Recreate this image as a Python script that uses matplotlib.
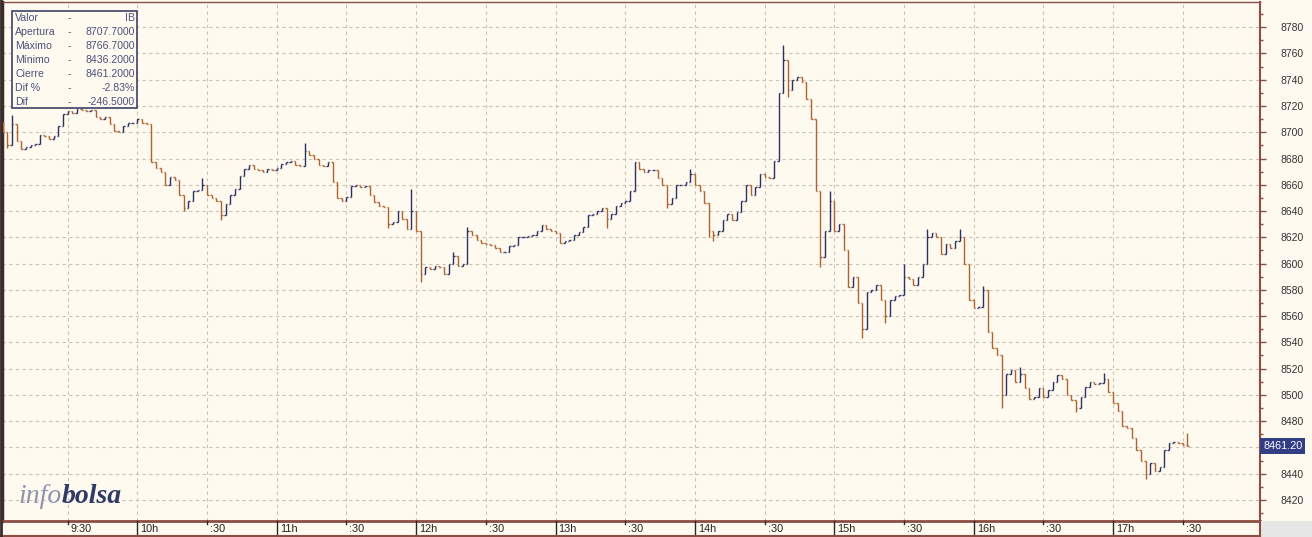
import numpy as np
import matplotlib
matplotlib.use("Agg")
import matplotlib.pyplot as plt
from matplotlib.collections import LineCollection
from matplotlib.patches import Rectangle
import matplotlib.transforms as mtransforms

# ---------------- data ----------------
open_price = 8707.7
bar_step_min = 2                      # 2-minute bars, minutes after 9:00
closes = [
    8700, 8690, 8706, 8693, 8687, 8689, 8690, 8691, 8698, 8697,
    8695, 8697, 8705, 8714, 8716, 8715, 8718, 8717, 8716, 8717,
    8712, 8710, 8712, 8706, 8701, 8700, 8705, 8707, 8707, 8710,
    8707, 8706, 8677, 8673, 8670, 8660, 8666, 8664, 8652, 8642,
    8648, 8655, 8656, 8660, 8652, 8650, 8648, 8637, 8645, 8652,
    8657, 8667, 8672, 8675, 8672, 8671, 8670, 8672, 8671, 8673,
    8676, 8677, 8678, 8675, 8674, 8686, 8683, 8680, 8675, 8674,
    8677, 8662, 8650, 8648, 8651, 8659, 8660, 8658, 8659, 8652,
    8647, 8644, 8643, 8630, 8632, 8640, 8634, 8626, 8640, 8625,
    8592, 8597, 8596, 8598, 8597, 8592, 8600, 8606, 8598, 8600,
    8625, 8622, 8618, 8616, 8615, 8614, 8612, 8609, 8609, 8613,
    8614, 8620, 8620, 8621, 8622, 8625, 8629, 8626, 8625, 8623,
    8616, 8617, 8618, 8622, 8624, 8628, 8637, 8638, 8640, 8642,
    8634, 8638, 8644, 8646, 8648, 8655, 8677, 8672, 8670, 8671,
    8671, 8665, 8660, 8645, 8650, 8660, 8660, 8662, 8668, 8660,
    8655, 8646, 8625, 8622, 8625, 8633, 8638, 8633, 8639, 8648,
    8660, 8652, 8658, 8668, 8666, 8665, 8678, 8730, 8755, 8732,
    8740, 8742, 8738, 8725, 8710, 8655, 8605, 8625, 8648, 8625,
    8630, 8610, 8582, 8590, 8570, 8550, 8578, 8580, 8584, 8572,
    8560, 8572, 8575, 8576, 8590, 8588, 8584, 8590, 8600, 8620,
    8623, 8620, 8607, 8615, 8612, 8617, 8620, 8600, 8572, 8566,
    8567, 8580, 8548, 8536, 8530, 8500, 8516, 8519, 8510, 8516,
    8505, 8497, 8498, 8505, 8498, 8504, 8510, 8515, 8512, 8500,
    8496, 8490, 8498, 8506, 8510, 8508, 8509, 8512, 8502, 8494,
    8488, 8476, 8475, 8467, 8458, 8450, 8440, 8448, 8442, 8445,
    8458, 8463, 8464, 8463, 8462, 8461.2,
]
# intrabar extremes beyond open/close (bar time -> price)
spike_highs = {"9:06": 8713, "10:28": 8665, "11:12": 8692, "11:58": 8657,
               "12:16": 8609, "12:22": 8628, "13:58": 8672, "14:38": 8766.7,
               "14:58": 8655, "15:30": 8600, "15:40": 8626, "15:54": 8626,
               "16:04": 8583, "16:20": 8521, "16:56": 8517, "17:32": 8471}
spike_lows = {"9:04": 8688, "10:20": 8640, "10:36": 8633, "11:48": 8627,
              "12:02": 8586, "13:22": 8627, "13:48": 8642, "14:06": 8620,
              "14:08": 8617, "14:40": 8727, "14:54": 8597, "15:12": 8543,
              "15:22": 8555, "16:12": 8490, "16:44": 8487, "17:14": 8436.2}

time_labels = ["9:30", "10h", ":30", "11h", ":30", "12h", ":30", "13h", ":30",
               "14h", ":30", "15h", ":30", "16h", ":30", "17h", ":30"]
y_ticks = list(range(8420, 8781, 20))
info_rows = [("Valor", "IB"), ("Apertura", "8707.7000"), ("Máximo", "8766.7000"),
             ("Mínimo", "8436.2000"), ("Cierre", "8461.2000"), ("Dif %", "-2.83%"),
             ("Dif", "-246.5000")]
last_label = "8461.20"

# ---------------- style ----------------
BG = "#fffaef"
UP = "#2d3161"
DOWN = "#b0612f"
FRAME = "#8b4d44"
GRID = "#c9c3b7"
FONT = "Liberation Sans"

W, H = 1312, 537
fig = plt.figure(figsize=(W / 100, H / 100), dpi=100, facecolor=BG)


def fx(px):
    return px / W


def fy(py):
    return 1 - py / H


ax_left, ax_right, ax_top, ax_bot = 2, 1260, 1.5, 521
ax = fig.add_axes([fx(ax_left), fy(ax_bot), fx(ax_right - ax_left), (ax_bot - ax_top) / H])
ax.set_facecolor(BG)

px_per_min = 2.323
x0_px = -2.0
ax.set_xlim((ax_left - x0_px) / px_per_min, (ax_right - x0_px) / px_per_min)
px_per_pt = 1.313
ax.set_ylim(8720 - (ax_bot - 106) / px_per_pt, 8720 + (106 - ax_top) / px_per_pt)

# ---------------- bars ----------------
n = len(closes)
mins = bar_step_min * np.arange(1, n + 1)
opens = [open_price] + closes[:-1]
half = 0.65
segs_up, segs_dn = [], []
for m, o, c in zip(mins, opens, closes):
    hi = max(o, c)
    lo = min(o, c)
    key = f"{9 + m // 60}:{m % 60:02d}"
    if key in spike_highs:
        hi = max(hi, spike_highs[key])
    if key in spike_lows:
        lo = min(lo, spike_lows[key])
    segs = [[(m, lo), (m, hi)], [(m - half, o), (m, o)], [(m, c), (m + half, c)]]
    (segs_up if c >= o else segs_dn).extend(segs)
ax.add_collection(LineCollection(segs_up, colors=UP, linewidths=1.0, zorder=3))
ax.add_collection(LineCollection(segs_dn, colors=DOWN, linewidths=1.0, zorder=3))

# ---------------- grid ----------------
half_hours = [30 * (k + 1) for k in range(len(time_labels))]
for xm in half_hours:
    ax.axvline(xm, color=GRID, lw=0.8, ls=(0, (3, 3)), zorder=1)
for yv in y_ticks:
    ax.axhline(yv, color=GRID, lw=0.8, ls=(0, (3, 3)), zorder=1)

# ---------------- axes / spines ----------------
ax.set_xticks([])
for s in ("top", "right", "bottom"):
    ax.spines[s].set_color(FRAME)
ax.spines["top"].set_linewidth(1.0)
ax.spines["right"].set_linewidth(1.5)
ax.spines["bottom"].set_linewidth(2.0)
ax.spines["left"].set_color("#3a2c2c")
ax.spines["left"].set_linewidth(2.5)

ax.yaxis.tick_right()
ax.set_yticks(y_ticks)
ax.set_yticks([v + 10 for v in y_ticks[:-1]] + [8410, 8790], minor=True)
# the 8460 label sits under the last-price tag, as in the original
ax.set_yticklabels(["" if abs(v - closes[-1]) < 8 else str(v) for v in y_ticks],
                   fontfamily=FONT, fontsize=7.5, color="#333333")
ax.tick_params(axis="y", which="major", direction="out", length=4.3, width=1.0,
               color=FRAME, pad=10.5)
ax.tick_params(axis="y", which="minor", direction="out", length=2.2, width=1.0, color=FRAME)

# x-axis strip labels and ticks
xtr = ax.get_xaxis_transform()
lab_tr = mtransforms.offset_copy(xtr, fig=fig, x=3, y=0, units="dots")
strip_h = (H - ax_bot) / (ax_bot - ax_top)
for xm, lab in zip(half_hours, time_labels):
    full = lab.endswith("h")
    ax.plot([xm, xm], [0, -strip_h if full else -3 / (ax_bot - ax_top)], transform=xtr,
            color="#2a2a2a", lw=1.0, clip_on=False, zorder=4)
    ax.text(xm, -8.5 / (ax_bot - ax_top), lab, transform=lab_tr, ha="left", va="center",
            fontfamily=FONT, fontsize=7.8, color="#222222")

# bottom strip frame and grey corner
fig.add_artist(Rectangle((fx(ax_right), 0), fx(W - ax_right), fy(ax_bot), transform=fig.transFigure,
                         facecolor="#e6e6e6", edgecolor="none", zorder=2))
fig.add_artist(plt.Line2D([0, fx(ax_right)], [fy(536), fy(536)], transform=fig.transFigure,
                          color=FRAME, lw=1.5))
fig.add_artist(plt.Line2D([fx(ax_right), fx(ax_right)], [fy(537), fy(ax_bot)], transform=fig.transFigure,
                          color=FRAME, lw=1.5))
fig.add_artist(plt.Line2D([fx(1), fx(1)], [0, 1], transform=fig.transFigure,
                          color="#3a2c2c", lw=2.0))

# ---------------- info box ----------------
fig.add_artist(Rectangle((fx(12), fy(108)), fx(125), 97 / H, transform=fig.transFigure,
                         facecolor=BG, edgecolor="#3c4266", lw=1.2, zorder=6))
for k, (lab, val) in enumerate(info_rows):
    yy = fy(18 + 14 * k)
    kw = dict(fontfamily=FONT, fontsize=7.6, color="#4b527d", va="center", zorder=7)
    fig.text(fx(15), yy, lab, ha="left", **kw)
    fig.text(fx(69), yy, "-", ha="center", **kw)
    fig.text(fx(135), yy, val, ha="right", **kw)

# ---------------- watermark ----------------
t1 = fig.text(fx(18), fy(503), "info", fontfamily="Liberation Serif", style="italic",
              fontsize=20, color="#8e94ae", ha="left", va="baseline", zorder=5)
renderer = fig.canvas.get_renderer()
bb = t1.get_window_extent(renderer)
fig.text(bb.x1 / W, fy(503), "bolsa", fontfamily="Liberation Serif", style="italic",
         fontweight="bold", fontsize=20, color="#2f3a66", ha="left", va="baseline", zorder=5)

# ---------------- last price tag ----------------
tag_tr = mtransforms.blended_transform_factory(ax.transAxes, ax.transData)
ax.text(1.0 + 3 / (ax_right - ax_left), closes[-1], last_label, transform=tag_tr, ha="left",
        va="center", fontfamily=FONT, fontsize=7.8, color="white", zorder=8, clip_on=False,
        bbox=dict(boxstyle="square,pad=0.25", facecolor="#333f85", edgecolor="none"))

fig.savefig("out.png", dpi=100, facecolor=BG)
